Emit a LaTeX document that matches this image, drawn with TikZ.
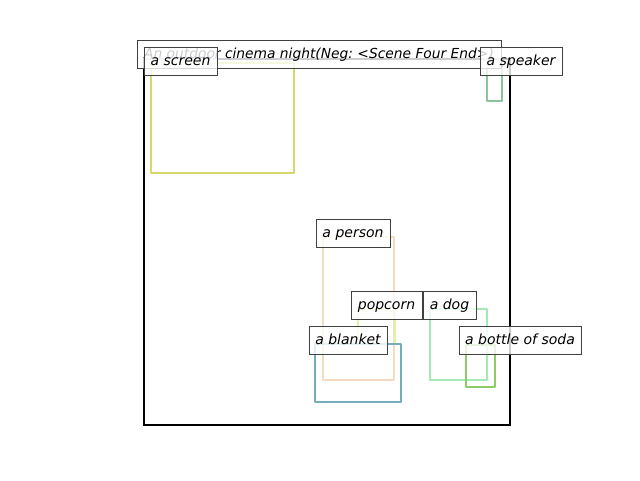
\documentclass[tikz,border=0pt]{standalone}
\usepackage{fontspec}
\setmainfont{DejaVu Sans}
\frenchspacing
\begin{document}
\begin{tikzpicture}[x=1pt,y=-1pt,
  lbl/.style={draw=black!75,fill=white,fill opacity=0.8,text opacity=1,line width=1pt,inner sep=0pt,font=\fontsize{14}{16}\selectfont\itshape,anchor=center,text height=8pt,text depth=0pt},
  bb/.style={line width=2.5pt,line join=round}]
\useasboundingbox (0,0) rectangle (640,480);
\definecolor{cScreen}{HTML}{D5D86C}
\definecolor{cSpeaker}{HTML}{8EC49D}
\definecolor{cPerson}{HTML}{F5DBC0}
\definecolor{cPop}{HTML}{DBF7A2}
\definecolor{cDog}{HTML}{A3E8B5}
\definecolor{cBlanket}{HTML}{74AEBA}
\definecolor{cSoda}{HTML}{8CCC66}
% main frame
\draw[line width=2pt] (144,59) rectangle (510,425);
% boxes
\draw[bb,cScreen] (151,63) rectangle (294,173);
\draw[bb,cSpeaker] (487,65) rectangle (502,101);
\draw[bb,cPerson] (323,237) rectangle (394,380);
\draw[bb,cPop] (358,309) rectangle (395,344);
\draw[bb,cDog] (430,309) rectangle (487,380);
\draw[bb,cBlanket] (315,344) rectangle (401,402);
\draw[bb,cSoda] (466,345) rectangle (495,387);
% title
\node[lbl,font=\fontsize{13.8}{16}\selectfont\itshape,minimum width=364pt,minimum height=28pt] (title) at (319,54) {An outdoor cinema night(Neg: <Scene Four End>)};
% labels
\node[lbl,minimum width=73pt,minimum height=28pt] (screen) at (180.5,61) {a screen};
\node[lbl,minimum width=82pt,minimum height=28pt] (speaker) at (521,61) {a speaker};
\node[lbl,minimum width=74pt,minimum height=28pt] (person) at (353,233) {a person};
\node[lbl,minimum width=71pt,minimum height=28pt] (popcorn) at (386.5,305) {popcorn};
\node[lbl,minimum width=53pt,minimum height=28pt] (dog) at (449.5,305) {a dog};
\node[lbl,minimum width=78pt,minimum height=28pt] (blanket) at (348,340) {a blanket};
\node[lbl,minimum width=122pt,minimum height=28pt] (soda) at (520,340) {a bottle of soda};
\end{tikzpicture}
\end{document}
